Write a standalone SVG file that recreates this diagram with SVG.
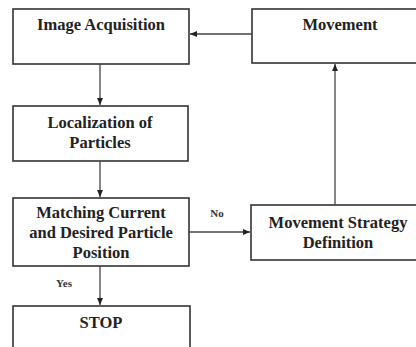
<svg xmlns="http://www.w3.org/2000/svg" width="416" height="347" viewBox="0 0 416 347" font-family="Liberation Serif, Times New Roman, serif">
<defs>
<marker id="ah" markerWidth="8" markerHeight="6" refX="7" refY="3" orient="auto" markerUnits="userSpaceOnUse">
<path d="M0,0 L7,3 L0,6 Z" fill="#222"/>
</marker>
<style>
.box{fill:#fff;stroke:#333;stroke-width:1.6}
.t{font-weight:bold;font-size:16.5px;fill:#222;text-anchor:middle}
.lbl{font-weight:bold;font-size:11px;fill:#333;text-anchor:middle}
.c{fill:none;stroke:#444;stroke-width:1.3}
</style>
</defs>
<rect width="416" height="347" fill="#fff"/>
<g id="n-image">
<rect class="box" x="13" y="9" width="176" height="55"/>
<text class="t" x="101" y="30" font-family="Liberation Serif">Image Acquisition</text>
</g>
<g id="n-local">
<rect class="box" x="13" y="106" width="175" height="55"/>
<text class="t" x="100" y="128">Localization of</text>
<text class="t" x="100" y="148">Particles</text>
</g>
<g id="n-match">
<rect class="box" x="13" y="198" width="176" height="68"/>
<text class="t" x="101" y="218">Matching Current</text>
<text class="t" x="101" y="238">and Desired Particle</text>
<text class="t" x="101" y="258">Position</text>
</g>
<g id="n-stop">
<rect class="box" x="13" y="306" width="177" height="50"/>
<text class="t" x="101" y="328">STOP</text>
</g>
<g id="n-move">
<rect class="box" x="252" y="9" width="175" height="54"/>
<text class="t" x="340" y="30">Movement</text>
</g>
<g id="n-strat">
<rect class="box" x="251" y="205" width="175" height="55"/>
<text class="t" x="338" y="228">Movement Strategy</text>
<text class="t" x="338" y="248">Definition</text>
</g>
<g id="connectors">
<path class="c" d="M252,34 L190,34" marker-end="url(#ah)"/>
<path class="c" d="M100,64 L100,105" marker-end="url(#ah)"/>
<path class="c" d="M100,161 L100,197" marker-end="url(#ah)"/>
<path class="c" d="M100,266 L100,305" marker-end="url(#ah)"/>
<path class="c" d="M189,232 L250,232" marker-end="url(#ah)"/>
<path class="c" d="M335,205 L335,64" marker-end="url(#ah)"/>
<text class="lbl" x="64" y="287">Yes</text>
<text class="lbl" x="217" y="217">No</text>
</g>
</svg>
